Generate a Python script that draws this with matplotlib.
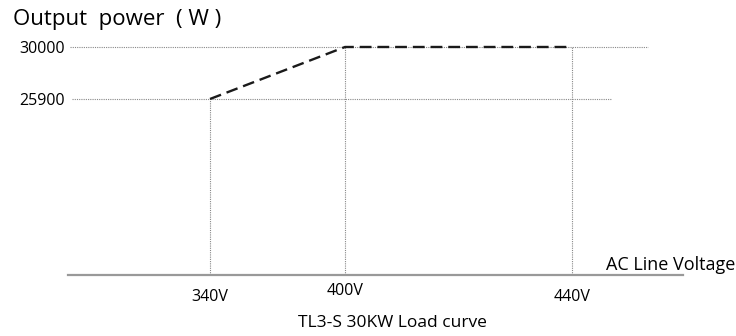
import numpy as np
import matplotlib
matplotlib.use("Agg")
import matplotlib.pyplot as plt
import matplotlib.transforms as mtransforms

plt.rcParams['font.family'] = ['Open Sans', 'DejaVu Sans']

# data
volts = [340, 400, 440]
power = [25900, 30000, 30000]
xlabels = ['340V', '400V', '440V']
ylabels = ['25900', '30000']
title = 'Output  power  ( W )'
xname = 'AC Line Voltage'
caption = 'TL3-S 30KW Load curve'

# the voltage axis of the drawing is not linear: piecewise mapping
knots_v = [300, 340, 400, 440, 480]
knots_p = [68, 210, 345, 572, 683]


def fwd(v):
    return np.interp(v, knots_v, knots_p)


def inv(p):
    return np.interp(p, knots_p, knots_v)


fig = plt.figure(figsize=(7.36, 3.36), dpi=100)
ax = fig.add_axes([68 / 736, 61 / 336, 615 / 736, 245 / 336])
ax.set_xscale('function', functions=(fwd, inv))
ax.set_xlim(300, 480)
ax.set_ylim(12020, 31340)

grid_kw = dict(color='#888888', lw=0.8, ls=(0, (1, 1)))
ax.axhline(power[1], xmin=0.003, xmax=0.943, **grid_kw)
ax.axhline(power[0], xmin=0.006, xmax=0.885, **grid_kw)
ax.vlines(volts[0], 12020, power[0], **grid_kw)
ax.vlines(volts[1:], 12020, power[1], **grid_kw)

ax.plot(volts, power, color='#1a1a1a', lw=1.7, dashes=(5, 2.5))

for s in ['top', 'left', 'right']:
    ax.spines[s].set_visible(False)
ax.spines['bottom'].set_color('#999999')
ax.spines['bottom'].set_linewidth(1.6)

ax.set_yticks([int(v) for v in ylabels])
ax.set_yticklabels(ylabels, fontsize=11.5)
ax.tick_params(axis='y', length=0, pad=2)
ax.set_xticks([])

# x labels (the 400V label sits slightly higher in the drawing)
dys = [-22, -16, -22]
for v, lab, dy in zip(volts, xlabels, dys):
    tr = mtransforms.offset_copy(ax.get_xaxis_transform(), fig=fig, x=0, y=dy, units='dots')
    ax.text(v, 0, lab, transform=tr, ha='center', va='center', fontsize=11.5)

fig.text(735 / 736, 1 - 270 / 336, xname, ha='right', va='baseline', fontsize=13)
fig.text(13 / 736, 1 - 20 / 336, title, ha='left', va='center', fontsize=16)
fig.text(392 / 736, 1 - 323 / 336, caption, ha='center', va='center', fontsize=12.5)

fig.savefig('out.png', dpi=100)
